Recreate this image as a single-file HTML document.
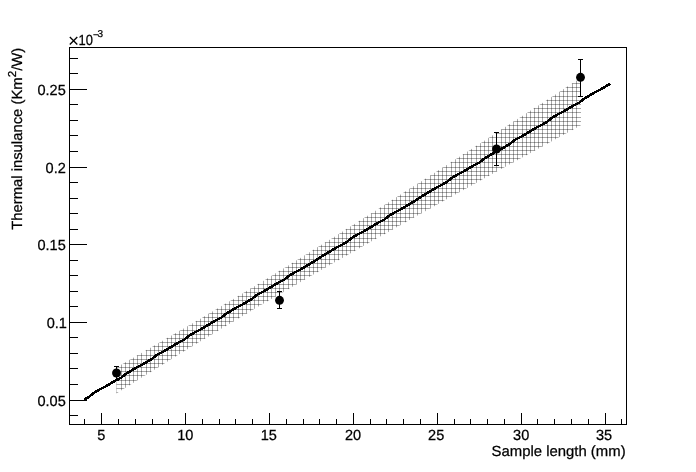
<!DOCTYPE html>
<html><head><meta charset="utf-8"><title>Thermal insulance vs sample length</title>
<style>html,body{margin:0;padding:0;background:#fff;overflow:hidden}svg{display:block}</style></head>
<body>
<svg width="696" height="472" viewBox="0 0 696 472">
<rect x="0" y="0" width="696" height="472" fill="#fff"/>
<defs><clipPath id="band"><polygon points="116.5,367.4 124.2,363.0 132.0,358.5 139.7,354.1 147.5,349.6 155.2,345.1 162.9,340.6 170.7,336.1 178.4,331.6 186.2,327.1 193.9,322.5 201.7,317.9 209.4,313.3 217.1,308.7 224.9,304.1 232.6,299.4 240.4,294.8 248.1,290.1 255.8,285.4 263.6,280.7 271.3,275.9 279.1,271.1 286.8,266.4 294.6,261.6 302.3,256.8 310.0,251.9 317.8,247.1 325.5,242.3 333.3,237.4 341.0,232.5 348.8,227.6 356.5,222.7 364.2,217.8 372.0,212.9 379.7,208.0 387.5,203.0 395.2,198.1 402.9,193.1 410.7,188.1 418.4,183.2 426.2,178.2 433.9,173.2 441.6,168.2 449.4,163.2 457.1,158.2 464.9,153.2 472.6,148.2 480.4,143.2 488.1,138.2 495.8,133.2 503.6,128.1 511.3,123.1 519.1,118.1 526.8,113.0 534.5,108.0 542.3,103.0 550.0,97.9 557.8,92.9 565.5,87.8 573.3,82.8 581.0,77.7 581.0,125.2 573.3,129.4 565.5,133.7 557.8,137.9 550.0,142.2 542.3,146.4 534.5,150.7 526.8,155.0 519.1,159.2 511.3,163.5 503.6,167.8 495.8,172.0 488.1,176.3 480.4,180.6 472.6,184.9 464.9,189.2 457.1,193.5 449.4,197.8 441.6,202.1 433.9,206.4 426.2,210.7 418.4,215.0 410.7,219.3 402.9,223.7 395.2,228.0 387.5,232.4 379.7,236.7 372.0,241.1 364.2,245.5 356.5,249.9 348.8,254.2 341.0,258.7 333.3,263.1 325.5,267.5 317.8,272.0 310.0,276.4 302.3,280.9 294.6,285.4 286.8,289.9 279.1,294.4 271.3,298.9 263.6,303.5 255.8,308.1 248.1,312.7 240.4,317.3 232.6,321.9 224.9,326.5 217.1,331.2 209.4,335.9 201.7,340.6 193.9,345.3 186.2,350.1 178.4,354.8 170.7,359.6 162.9,364.4 155.2,369.2 147.5,374.0 139.7,378.8 132.0,383.7 124.2,388.6 116.5,393.4"/></clipPath></defs>
<g clip-path="url(#band)" fill="#000" fill-opacity="0.34" shape-rendering="crispEdges"><rect x="112" y="47" width="1" height="377"/><rect x="116" y="47" width="1" height="377"/><rect x="121" y="47" width="1" height="377"/><rect x="125" y="47" width="1" height="377"/><rect x="129" y="47" width="1" height="377"/><rect x="133" y="47" width="1" height="377"/><rect x="137" y="47" width="1" height="377"/><rect x="141" y="47" width="1" height="377"/><rect x="146" y="47" width="1" height="377"/><rect x="150" y="47" width="1" height="377"/><rect x="154" y="47" width="1" height="377"/><rect x="158" y="47" width="1" height="377"/><rect x="162" y="47" width="1" height="377"/><rect x="167" y="47" width="1" height="377"/><rect x="171" y="47" width="1" height="377"/><rect x="175" y="47" width="1" height="377"/><rect x="179" y="47" width="1" height="377"/><rect x="183" y="47" width="1" height="377"/><rect x="187" y="47" width="1" height="377"/><rect x="192" y="47" width="1" height="377"/><rect x="196" y="47" width="1" height="377"/><rect x="200" y="47" width="1" height="377"/><rect x="204" y="47" width="1" height="377"/><rect x="208" y="47" width="1" height="377"/><rect x="212" y="47" width="1" height="377"/><rect x="217" y="47" width="1" height="377"/><rect x="221" y="47" width="1" height="377"/><rect x="225" y="47" width="1" height="377"/><rect x="229" y="47" width="1" height="377"/><rect x="233" y="47" width="1" height="377"/><rect x="238" y="47" width="1" height="377"/><rect x="242" y="47" width="1" height="377"/><rect x="246" y="47" width="1" height="377"/><rect x="250" y="47" width="1" height="377"/><rect x="254" y="47" width="1" height="377"/><rect x="258" y="47" width="1" height="377"/><rect x="263" y="47" width="1" height="377"/><rect x="267" y="47" width="1" height="377"/><rect x="271" y="47" width="1" height="377"/><rect x="275" y="47" width="1" height="377"/><rect x="279" y="47" width="1" height="377"/><rect x="283" y="47" width="1" height="377"/><rect x="288" y="47" width="1" height="377"/><rect x="292" y="47" width="1" height="377"/><rect x="296" y="47" width="1" height="377"/><rect x="300" y="47" width="1" height="377"/><rect x="304" y="47" width="1" height="377"/><rect x="309" y="47" width="1" height="377"/><rect x="313" y="47" width="1" height="377"/><rect x="317" y="47" width="1" height="377"/><rect x="321" y="47" width="1" height="377"/><rect x="325" y="47" width="1" height="377"/><rect x="329" y="47" width="1" height="377"/><rect x="334" y="47" width="1" height="377"/><rect x="338" y="47" width="1" height="377"/><rect x="342" y="47" width="1" height="377"/><rect x="346" y="47" width="1" height="377"/><rect x="350" y="47" width="1" height="377"/><rect x="354" y="47" width="1" height="377"/><rect x="359" y="47" width="1" height="377"/><rect x="363" y="47" width="1" height="377"/><rect x="367" y="47" width="1" height="377"/><rect x="371" y="47" width="1" height="377"/><rect x="375" y="47" width="1" height="377"/><rect x="380" y="47" width="1" height="377"/><rect x="384" y="47" width="1" height="377"/><rect x="388" y="47" width="1" height="377"/><rect x="392" y="47" width="1" height="377"/><rect x="396" y="47" width="1" height="377"/><rect x="400" y="47" width="1" height="377"/><rect x="405" y="47" width="1" height="377"/><rect x="409" y="47" width="1" height="377"/><rect x="413" y="47" width="1" height="377"/><rect x="417" y="47" width="1" height="377"/><rect x="421" y="47" width="1" height="377"/><rect x="425" y="47" width="1" height="377"/><rect x="430" y="47" width="1" height="377"/><rect x="434" y="47" width="1" height="377"/><rect x="438" y="47" width="1" height="377"/><rect x="442" y="47" width="1" height="377"/><rect x="446" y="47" width="1" height="377"/><rect x="451" y="47" width="1" height="377"/><rect x="455" y="47" width="1" height="377"/><rect x="459" y="47" width="1" height="377"/><rect x="463" y="47" width="1" height="377"/><rect x="467" y="47" width="1" height="377"/><rect x="471" y="47" width="1" height="377"/><rect x="476" y="47" width="1" height="377"/><rect x="480" y="47" width="1" height="377"/><rect x="484" y="47" width="1" height="377"/><rect x="488" y="47" width="1" height="377"/><rect x="492" y="47" width="1" height="377"/><rect x="496" y="47" width="1" height="377"/><rect x="501" y="47" width="1" height="377"/><rect x="505" y="47" width="1" height="377"/><rect x="509" y="47" width="1" height="377"/><rect x="513" y="47" width="1" height="377"/><rect x="517" y="47" width="1" height="377"/><rect x="522" y="47" width="1" height="377"/><rect x="526" y="47" width="1" height="377"/><rect x="530" y="47" width="1" height="377"/><rect x="534" y="47" width="1" height="377"/><rect x="538" y="47" width="1" height="377"/><rect x="542" y="47" width="1" height="377"/><rect x="547" y="47" width="1" height="377"/><rect x="551" y="47" width="1" height="377"/><rect x="555" y="47" width="1" height="377"/><rect x="559" y="47" width="1" height="377"/><rect x="563" y="47" width="1" height="377"/><rect x="567" y="47" width="1" height="377"/><rect x="572" y="47" width="1" height="377"/><rect x="576" y="47" width="1" height="377"/><rect x="112" y="421" width="474" height="1"/><rect x="112" y="417" width="474" height="1"/><rect x="112" y="413" width="474" height="1"/><rect x="112" y="409" width="474" height="1"/><rect x="112" y="405" width="474" height="1"/><rect x="112" y="401" width="474" height="1"/><rect x="112" y="396" width="474" height="1"/><rect x="112" y="392" width="474" height="1"/><rect x="112" y="388" width="474" height="1"/><rect x="112" y="384" width="474" height="1"/><rect x="112" y="380" width="474" height="1"/><rect x="112" y="375" width="474" height="1"/><rect x="112" y="371" width="474" height="1"/><rect x="112" y="367" width="474" height="1"/><rect x="112" y="363" width="474" height="1"/><rect x="112" y="359" width="474" height="1"/><rect x="112" y="355" width="474" height="1"/><rect x="112" y="350" width="474" height="1"/><rect x="112" y="346" width="474" height="1"/><rect x="112" y="342" width="474" height="1"/><rect x="112" y="338" width="474" height="1"/><rect x="112" y="334" width="474" height="1"/><rect x="112" y="330" width="474" height="1"/><rect x="112" y="325" width="474" height="1"/><rect x="112" y="321" width="474" height="1"/><rect x="112" y="317" width="474" height="1"/><rect x="112" y="313" width="474" height="1"/><rect x="112" y="309" width="474" height="1"/><rect x="112" y="304" width="474" height="1"/><rect x="112" y="300" width="474" height="1"/><rect x="112" y="296" width="474" height="1"/><rect x="112" y="292" width="474" height="1"/><rect x="112" y="288" width="474" height="1"/><rect x="112" y="284" width="474" height="1"/><rect x="112" y="279" width="474" height="1"/><rect x="112" y="275" width="474" height="1"/><rect x="112" y="271" width="474" height="1"/><rect x="112" y="267" width="474" height="1"/><rect x="112" y="263" width="474" height="1"/><rect x="112" y="259" width="474" height="1"/><rect x="112" y="254" width="474" height="1"/><rect x="112" y="250" width="474" height="1"/><rect x="112" y="246" width="474" height="1"/><rect x="112" y="242" width="474" height="1"/><rect x="112" y="238" width="474" height="1"/><rect x="112" y="233" width="474" height="1"/><rect x="112" y="229" width="474" height="1"/><rect x="112" y="225" width="474" height="1"/><rect x="112" y="221" width="474" height="1"/><rect x="112" y="217" width="474" height="1"/><rect x="112" y="213" width="474" height="1"/><rect x="112" y="208" width="474" height="1"/><rect x="112" y="204" width="474" height="1"/><rect x="112" y="200" width="474" height="1"/><rect x="112" y="196" width="474" height="1"/><rect x="112" y="192" width="474" height="1"/><rect x="112" y="188" width="474" height="1"/><rect x="112" y="183" width="474" height="1"/><rect x="112" y="179" width="474" height="1"/><rect x="112" y="175" width="474" height="1"/><rect x="112" y="171" width="474" height="1"/><rect x="112" y="167" width="474" height="1"/><rect x="112" y="162" width="474" height="1"/><rect x="112" y="158" width="474" height="1"/><rect x="112" y="154" width="474" height="1"/><rect x="112" y="150" width="474" height="1"/><rect x="112" y="146" width="474" height="1"/><rect x="112" y="142" width="474" height="1"/><rect x="112" y="137" width="474" height="1"/><rect x="112" y="133" width="474" height="1"/><rect x="112" y="129" width="474" height="1"/><rect x="112" y="125" width="474" height="1"/><rect x="112" y="121" width="474" height="1"/><rect x="112" y="117" width="474" height="1"/><rect x="112" y="112" width="474" height="1"/><rect x="112" y="108" width="474" height="1"/><rect x="112" y="104" width="474" height="1"/><rect x="112" y="100" width="474" height="1"/><rect x="112" y="96" width="474" height="1"/><rect x="112" y="91" width="474" height="1"/><rect x="112" y="87" width="474" height="1"/><rect x="112" y="83" width="474" height="1"/><rect x="112" y="79" width="474" height="1"/><rect x="112" y="75" width="474" height="1"/><rect x="112" y="71" width="474" height="1"/><rect x="112" y="66" width="474" height="1"/><rect x="112" y="62" width="474" height="1"/><rect x="112" y="58" width="474" height="1"/><rect x="112" y="54" width="474" height="1"/><rect x="112" y="50" width="474" height="1"/></g>
<polyline fill="none" stroke="#000" stroke-width="2.5" stroke-linejoin="round" shape-rendering="crispEdges" points="84.5,399.5 89.5,396.5 94.5,392.5 99.5,389.5 105.5,386.5 110.5,383.5 115.5,380.5 121.5,377.5 126.5,373.5 131.5,370.5 136.5,367.5 142.5,364.5 147.5,361.5 152.5,358.5 157.5,354.5 163.5,351.5 168.5,348.5 173.5,345.5 178.5,342.5 184.5,339.5 189.5,335.5 194.5,332.5 200.5,329.5 205.5,326.5 210.5,323.5 215.5,320.5 221.5,317.5 226.5,313.5 231.5,310.5 236.5,307.5 242.5,304.5 247.5,301.5 252.5,298.5 257.5,294.5 263.5,291.5 268.5,288.5 273.5,285.5 278.5,282.5 284.5,279.5 289.5,275.5 294.5,272.5 300.5,269.5 305.5,266.5 310.5,263.5 315.5,260.5 321.5,256.5 326.5,253.5 331.5,250.5 336.5,247.5 342.5,244.5 347.5,241.5 352.5,237.5 357.5,234.5 363.5,231.5 368.5,228.5 373.5,225.5 378.5,222.5 384.5,219.5 389.5,215.5 394.5,212.5 400.5,209.5 405.5,206.5 410.5,203.5 415.5,200.5 421.5,196.5 426.5,193.5 431.5,190.5 436.5,187.5 442.5,184.5 447.5,181.5 452.5,177.5 457.5,174.5 463.5,171.5 468.5,168.5 473.5,165.5 479.5,162.5 484.5,158.5 489.5,155.5 494.5,152.5 500.5,149.5 505.5,146.5 510.5,143.5 515.5,139.5 521.5,136.5 526.5,133.5 531.5,130.5 536.5,127.5 542.5,124.5 547.5,121.5 552.5,117.5 557.5,114.5 563.5,111.5 568.5,108.5 573.5,105.5 579.5,102.5 584.5,98.5 589.5,95.5 594.5,92.5 600.5,89.5 605.5,86.5 610.5,83.5"/>
<g fill="#000" shape-rendering="crispEdges"><rect x="69" y="47" width="558" height="1"/><rect x="69" y="424" width="558" height="1"/><rect x="69" y="47" width="1" height="378"/><rect x="626" y="47" width="1" height="378"/><rect x="84" y="419" width="1" height="5"/><rect x="101" y="413" width="1" height="11"/><rect x="118" y="419" width="1" height="5"/><rect x="135" y="419" width="1" height="5"/><rect x="152" y="419" width="1" height="5"/><rect x="168" y="419" width="1" height="5"/><rect x="185" y="413" width="1" height="11"/><rect x="202" y="419" width="1" height="5"/><rect x="219" y="419" width="1" height="5"/><rect x="235" y="419" width="1" height="5"/><rect x="252" y="419" width="1" height="5"/><rect x="269" y="413" width="1" height="11"/><rect x="286" y="419" width="1" height="5"/><rect x="303" y="419" width="1" height="5"/><rect x="319" y="419" width="1" height="5"/><rect x="336" y="419" width="1" height="5"/><rect x="353" y="413" width="1" height="11"/><rect x="370" y="419" width="1" height="5"/><rect x="386" y="419" width="1" height="5"/><rect x="403" y="419" width="1" height="5"/><rect x="420" y="419" width="1" height="5"/><rect x="437" y="413" width="1" height="11"/><rect x="454" y="419" width="1" height="5"/><rect x="470" y="419" width="1" height="5"/><rect x="487" y="419" width="1" height="5"/><rect x="504" y="419" width="1" height="5"/><rect x="521" y="413" width="1" height="11"/><rect x="537" y="419" width="1" height="5"/><rect x="554" y="419" width="1" height="5"/><rect x="571" y="419" width="1" height="5"/><rect x="588" y="419" width="1" height="5"/><rect x="605" y="413" width="1" height="11"/><rect x="621" y="419" width="1" height="5"/><rect x="70" y="415" width="8" height="1"/><rect x="70" y="400" width="17" height="1"/><rect x="70" y="384" width="8" height="1"/><rect x="70" y="368" width="8" height="1"/><rect x="70" y="353" width="8" height="1"/><rect x="70" y="337" width="8" height="1"/><rect x="70" y="322" width="17" height="1"/><rect x="70" y="306" width="8" height="1"/><rect x="70" y="291" width="8" height="1"/><rect x="70" y="275" width="8" height="1"/><rect x="70" y="260" width="8" height="1"/><rect x="70" y="244" width="17" height="1"/><rect x="70" y="229" width="8" height="1"/><rect x="70" y="213" width="8" height="1"/><rect x="70" y="198" width="8" height="1"/><rect x="70" y="182" width="8" height="1"/><rect x="70" y="167" width="17" height="1"/><rect x="70" y="151" width="8" height="1"/><rect x="70" y="135" width="8" height="1"/><rect x="70" y="120" width="8" height="1"/><rect x="70" y="104" width="8" height="1"/><rect x="70" y="89" width="17" height="1"/><rect x="70" y="73" width="8" height="1"/><rect x="70" y="58" width="8" height="1"/><rect x="116" y="366" width="1" height="15"/><rect x="114" y="366" width="5" height="1"/><rect x="114" y="380" width="5" height="1"/><rect x="279" y="291" width="1" height="18"/><rect x="277" y="291" width="5" height="1"/><rect x="277" y="308" width="5" height="1"/><rect x="496" y="132" width="1" height="34"/><rect x="494" y="132" width="5" height="1"/><rect x="494" y="165" width="5" height="1"/><rect x="580" y="59" width="1" height="38"/><rect x="578" y="59" width="5" height="1"/><rect x="578" y="96" width="5" height="1"/></g><circle cx="116.5" cy="373.0" r="4.45" fill="#000"/><circle cx="279.5" cy="300.3" r="4.45" fill="#000"/><circle cx="496.5" cy="149.0" r="4.45" fill="#000"/><circle cx="580.5" cy="77.3" r="4.45" fill="#000"/>
<g font-family="'Liberation Sans', sans-serif" fill="#000" stroke="#000" stroke-width="0.25" text-rendering="geometricPrecision"><text transform="translate(101.25,440.2) scale(0.99,1.0)" text-anchor="middle" font-size="14.7">5</text><text transform="translate(185.35,440.2) scale(0.99,1.0)" text-anchor="middle" font-size="14.7">10</text><text transform="translate(268.75,440.2) scale(0.99,1.0)" text-anchor="middle" font-size="14.7">15</text><text transform="translate(353.10,440.2) scale(0.99,1.0)" text-anchor="middle" font-size="14.7">20</text><text transform="translate(436.20,440.2) scale(0.99,1.0)" text-anchor="middle" font-size="14.7">25</text><text transform="translate(521.20,440.2) scale(0.99,1.0)" text-anchor="middle" font-size="14.7">30</text><text transform="translate(604.10,440.2) scale(0.99,1.0)" text-anchor="middle" font-size="14.7">35</text><text transform="translate(65.8,406.3) scale(0.99,1.0)" text-anchor="end" font-size="14.7">0.05</text><text transform="translate(66.9,328.3) scale(0.99,1.0)" text-anchor="end" font-size="14.7">0.1</text><text transform="translate(65.8,250.3) scale(0.99,1.0)" text-anchor="end" font-size="14.7">0.15</text><text transform="translate(65.8,173.3) scale(0.99,1.0)" text-anchor="end" font-size="14.7">0.2</text><text transform="translate(65.8,95.3) scale(0.99,1.0)" text-anchor="end" font-size="14.7">0.25</text><text transform="translate(625.6,455.8) scale(1.014,1.0)" text-anchor="end" font-size="14.7">Sample length (mm)</text><text transform="translate(22,47.8) rotate(-90) scale(1.01,1.0)" text-anchor="end" font-size="14.7">Thermal insulance (Km<tspan font-size="11.5" dy="-6.5">2</tspan><tspan dy="6.5">/W)</tspan></text><text stroke-width="0" transform="translate(67.9,47.1) scale(1,1.0)" text-anchor="start" font-size="19">×</text><text transform="translate(78.5,44.8) scale(0.88,1.0)" text-anchor="start" font-size="14.7">10</text><text transform="translate(93.0,38.2) scale(1,1.0)" text-anchor="start" font-size="10">−</text><text transform="translate(97.5,37.2) scale(1,1.0)" text-anchor="start" font-size="10">3</text></g>
</svg>
</body></html>
